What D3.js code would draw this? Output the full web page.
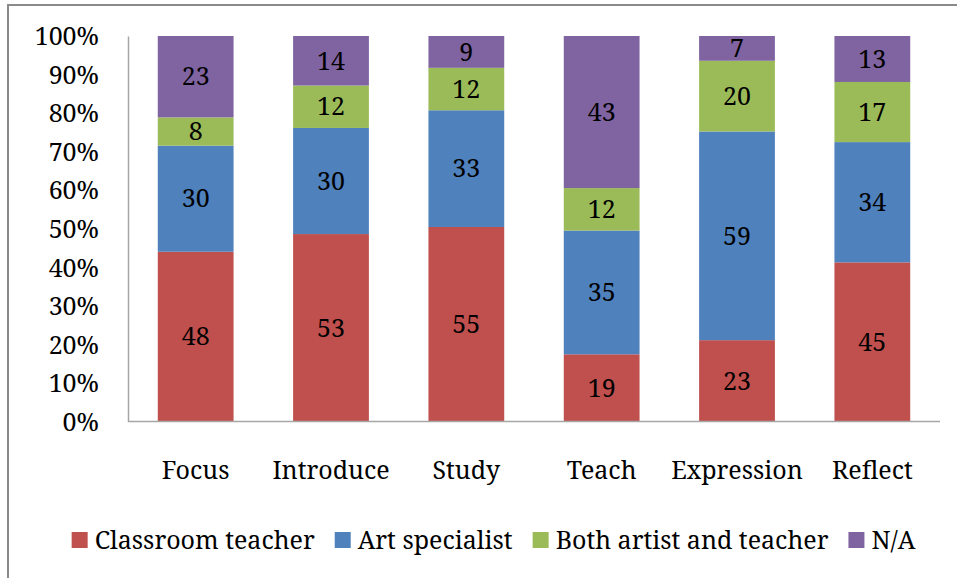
<!DOCTYPE html>
<html><head><meta charset="utf-8">
<script src="https://cdn.jsdelivr.net/npm/d3@7"></script>
<style>body{margin:0;background:#fff}svg{display:block}</style>
</head><body><svg id="c" width="957" height="578"></svg>
<script>
const categories = ["Focus","Introduce","Study","Teach","Expression","Reflect"];
const seriesNames = ["Classroom teacher","Art specialist","Both artist and teacher","N/A"];
const classroomTeacher = [48,53,55,19,23,45];
const artSpecialist = [30,30,33,35,59,34];
const bothArtistTeacher = [8,12,12,12,20,17];
const notApplicable = [23,14,9,43,7,13];
const yTicks = [0,0.1,0.2,0.3,0.4,0.5,0.6,0.7,0.8,0.9,1];
const colors = ["#C0504D","#4F81BD","#9BBB59","#8064A2"];

const seriesValues = [classroomTeacher, artSpecialist, bothArtistTeacher, notApplicable];
const rows = categories.map((c,i)=>{
  const o = {cat:c};
  seriesNames.forEach((s,j)=>{o[s]=seriesValues[j][i];});
  return o;
});
const layers = d3.stack().keys(seriesNames).offset(d3.stackOffsetExpand)(rows);

const svg = d3.select("#c");
const font = '"Noto Serif", "DejaVu Serif", serif';
const fs = "25px";
function sty(sel){ return sel.style("font-family",font).style("font-size",fs).style("fill","#000"); }

svg.append("rect").attr("x",8).attr("y",5).attr("width",1000).attr("height",700)
  .attr("fill","none").attr("stroke","#8a8a8a").attr("stroke-width",2);

const L=128, R=940, T=36, B=421.5;
const x = d3.scaleBand().domain(categories).range([L,R]).paddingInner(0.44).paddingOuter(0.22);
const y = d3.scaleLinear().domain([0,1]).range([B,T]);

const g = svg.append("g");
layers.forEach((layer,j)=>{
  g.selectAll(null).data(layer).enter().append("rect")
    .attr("x",d=>x(d.data.cat)).attr("width",x.bandwidth())
    .attr("y",d=>y(d[1])).attr("height",d=>y(d[0])-y(d[1]))
    .attr("fill",colors[j]);
  sty(g.selectAll(null).data(layer).enter().append("text")
    .attr("x",d=>x(d.data.cat)+x.bandwidth()/2)
    .attr("y",d=>(y(d[0])+y(d[1]))/2)
    .attr("dy","0.35em").attr("text-anchor","middle"))
    .text(d=>d.data[layer.key]);
});

// y axis
const ya = svg.append("g").attr("transform",`translate(${L},0)`)
  .call(d3.axisLeft(y).tickValues(yTicks).tickFormat(d3.format(".0%")).tickSize(0).tickPadding(29));
ya.select(".domain").attr("stroke","#a6a6a6").attr("stroke-width",1.5);
sty(ya.selectAll("text")).attr("dy","0.35em");

// x axis
const xa = svg.append("g").attr("transform",`translate(0,${B})`)
  .call(d3.axisBottom(x).tickSize(0).tickPadding(0));
xa.select(".domain").attr("stroke","#a6a6a6").attr("stroke-width",1.5).attr("d",`M${L},0H${R}`);
sty(xa.selectAll("text")).attr("dy",0).attr("y",57);

// legend
const lg = svg.append("g");
let cx = 0;
seriesNames.forEach((s,j)=>{
  const it = lg.append("g").attr("transform",`translate(${cx},0)`);
  it.append("rect").attr("x",0).attr("y",-8).attr("width",16).attr("height",16).attr("fill",colors[j]);
  const t = sty(it.append("text").attr("x",23).attr("y",0).attr("dy","0.35em")).text(s);
  cx += 23 + t.node().getComputedTextLength() + 20;
});
const totalW = cx - 20;
lg.attr("transform",`translate(${(75+912)/2 - totalW/2},540)`);
</script></body></html>
